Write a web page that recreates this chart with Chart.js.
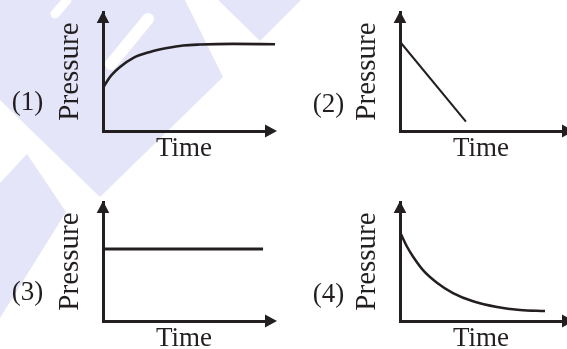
<!DOCTYPE html>
<html>
<head>
<meta charset="utf-8">
<script src="https://cdn.jsdelivr.net/npm/chart.js@4.4.1/dist/chart.umd.min.js"></script>
<style>
  html, body { margin: 0; padding: 0; background: #fff; overflow: hidden; }
  #page { position: relative; width: 567px; height: 349px; overflow: hidden; }
  #page svg { position: absolute; left: 0; top: 0; }
  #page canvas { position: absolute; }
</style>
</head>
<body>
<div id="page">
  <svg width="567" height="349">
    <g fill="#e5e5f9">
      <polygon points="0,0 185,0 223,77 100,197 0,100"/>
      <polygon points="218,0 260,41 301,0"/>
      <polygon points="0,183 27,154 66,212 0,318"/>
    </g>
    <g stroke="#fff" fill="none">
      <line x1="55" y1="14" x2="67" y2="0" stroke-width="9" stroke-linecap="round"/>
      <line x1="111" y1="64" x2="148" y2="19" stroke-width="12" stroke-linecap="round"/>
    </g>
  </svg>
  <canvas id="p1" width="297" height="190" style="left:0;top:0"></canvas>
  <canvas id="p2" width="297" height="190" style="left:297px;top:0"></canvas>
  <canvas id="p3" width="297" height="190" style="left:0;top:190px"></canvas>
  <canvas id="p4" width="297" height="190" style="left:297px;top:190px"></canvas>
</div>
<script>
// panel labels
const panelLabels = ['(1)', '(2)', '(3)', '(4)'];

// (1) pressure rises and levels off
const time1 = [0, 0.43, 1.05, 1.85, 2.9, 3.95, 4.94, 5.99, 8.02, 10.62];
const pressure1 = [3.61, 4.54, 5.38, 6.13, 6.64, 6.97, 7.19, 7.27, 7.32, 7.29];

// (2) straight fall
const time2 = [0, 4.07];
const pressure2 = [7.5, 0.78];

// (3) constant
const time3 = [0, 9.88];
const pressure3 = [6.05, 6.05];

// (4) decays towards a floor
const time4 = [0, 0.41, 0.8, 1.42, 2.28, 3.27, 4.51, 5.99, 7.41, 8.95];
const pressure4 = [7.48, 6.3, 5.42, 4.28, 3.22, 2.35, 1.66, 1.18, 0.93, 0.84];

const ink = '#231f20';
const serif = "'Liberation Serif', 'Times New Roman', serif";

// arrow heads on both axes + the (n) label
const arrowAxes = {
    id: 'arrowAxes',
    afterDraw(chart, args, opts) {
        const {ctx, chartArea: a} = chart;
        ctx.save();
        ctx.fillStyle = ink;
        ctx.beginPath();
        ctx.moveTo(a.left, a.top - 1);
        ctx.lineTo(a.left - 6.3, a.top + 11);
        ctx.lineTo(a.left + 6.3, a.top + 11);
        ctx.closePath();
        ctx.fill();
        ctx.beginPath();
        ctx.moveTo(a.right + 12, a.bottom);
        ctx.lineTo(a.right, a.bottom - 6.5);
        ctx.lineTo(a.right, a.bottom + 6.5);
        ctx.closePath();
        ctx.fill();
        ctx.font = '27px ' + serif;
        ctx.textAlign = 'center';
        ctx.textBaseline = 'alphabetic';
        ctx.fillText(opts.label, a.left + opts.dx, a.bottom + opts.dy);
        ctx.restore();
    }
};

function panel(id, label, time, pressure, width, dx, dy) {
    new Chart(document.getElementById(id), {
        type: 'line',
        data: {
            datasets: [{
                data: time.map((t, i) => ({x: t, y: pressure[i]})),
                borderColor: ink,
                borderWidth: width,
                pointRadius: 0,
                cubicInterpolationMode: 'monotone',
                clip: false
            }]
        },
        options: {
            responsive: false,
            animation: false,
            events: [],
            layout: { padding: { left: 40, top: 12, right: 32, bottom: 24.8 } },
            plugins: {
                legend: { display: false },
                tooltip: { enabled: false },
                arrowAxes: { label: label, dx: dx, dy: dy }
            },
            scales: {
                x: {
                    type: 'linear', min: 0, max: 10,
                    ticks: { display: false },
                    grid: { display: false, drawTicks: false, tickLength: 0 },
                    border: { display: true, width: 3, color: ink },
                    title: {
                        display: true, text: 'Time', color: ink,
                        font: { family: serif, size: 27 },
                        padding: { top: 1.8, bottom: 0 }
                    }
                },
                y: {
                    type: 'linear', min: 0, max: 10,
                    ticks: { display: false },
                    grid: { display: false, drawTicks: false, tickLength: 0 },
                    border: { display: true, width: 3, color: ink },
                    title: {
                        display: true, text: 'Pressure', color: ink,
                        font: { family: serif, size: 29 },
                        padding: { top: 12.6, bottom: 15.6 }
                    }
                }
            }
        },
        plugins: [arrowAxes]
    });
}

panel('p1', panelLabels[0], time1, pressure1, 2.6, -75.5, -21);
panel('p2', panelLabels[1], time2, pressure2, 2, -71.5, -19.5);
panel('p3', panelLabels[2], time3, pressure3, 2.8, -75.5, -21);
panel('p4', panelLabels[3], time4, pressure4, 2.5, -71.5, -19.5);
</script>
</body>
</html>
